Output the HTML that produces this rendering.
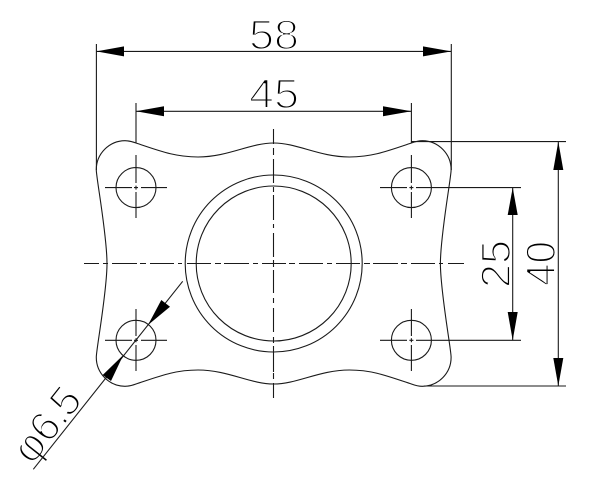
<!DOCTYPE html>
<html><head><meta charset="utf-8"><style>
html,body{margin:0;padding:0;background:#fff;width:602px;height:502px;overflow:hidden}
svg{display:block}
text{font-family:"Liberation Sans",sans-serif;font-size:42px;fill:#000;stroke:#fff;stroke-width:1.9px;paint-order:fill stroke}
.l{stroke:#1a1a1a;stroke-width:1.1;fill:none}
.a{fill:#000;stroke:none}
</style></head><body>
<svg width="602" height="502" viewBox="0 0 602 502" xmlns="http://www.w3.org/2000/svg">
<rect width="602" height="502" fill="#fff"/>
<text x="249" y="49" textLength="50" lengthAdjust="spacingAndGlyphs">58</text>
<text x="249" y="108" textLength="50" lengthAdjust="spacingAndGlyphs">45</text>
<text transform="translate(510 288) rotate(-90)" textLength="48" lengthAdjust="spacingAndGlyphs">25</text>
<text transform="translate(555 286) rotate(-90)" textLength="45" lengthAdjust="spacingAndGlyphs">40</text>
<text transform="translate(32 466) rotate(-51.5)" x="0 27 50 60" y="0">φ6.5</text>

<g class="l">
<path id="q" d="M273.7 143C250 143 228 157 198 157C175 157 160 151 136 143C132 141.5 128 140.7 125 140.7A29 29 0 0 0 96.3 170C96.3 178 107 235 107 263.5"/>
<use href="#q" transform="matrix(-1 0 0 1 547.4 0)"/>
<use href="#q" transform="matrix(1 0 0 -1 0 527)"/>
<use href="#q" transform="matrix(-1 0 0 -1 547.4 527)"/>
<circle cx="273.7" cy="263.5" r="88.5"/>
<circle cx="273.7" cy="263.5" r="77.5"/>
<circle cx="136" cy="187.6" r="20"/>
<circle cx="411.4" cy="187.6" r="20"/>
<circle cx="136" cy="340.3" r="20"/>
<circle cx="411.4" cy="340.3" r="20"/>

<!-- main centre lines -->
<path d="M84 263.5H99M103 263.5H108M112 263.5H137M140 263.5H146M150 263.5H174M178 263.5H182M187 263.5H211M215 263.5H221M224 263.5H249M253 263.5H258M262 263.5H286M289 263.5H295M299 263.5H323M327 263.5H332M336 263.5H360M364 263.5H370M373 263.5H398M401 263.5H407M411 263.5H435M439 263.5H443M448 263.5H464"/>
<path d="M273.5 129V144M273.5 148V155M273.5 159V183M273.5 187V192M273.5 195V220M273.5 224V228M273.5 233V257M273.5 260V267M273.5 270V293M273.5 298V303M273.5 308V332M273.5 337V343M273.5 346V372M273.5 373V379M273.5 383V398"/>

<!-- hole centre marks -->
<path d="M105 187.6H132M134 187.6H138M141 187.6H167M136 155V183M136 185.6V189.6M136 192V218"/>
<path d="M380 187.6H407M409.4 187.6H413.4M416 187.6H521M411.4 155V183M411.4 185.6V189.6M411.4 192V218"/>
<path d="M105 340.3H132M134 340.3H138M141 340.3H167M136 309V336M136 338.3V342.3M136 345V371"/>
<path d="M380 340.3H407M409.4 340.3H413.4M416 340.3H521M411.4 309V336M411.4 338.3V342.3M411.4 345V371"/>

<!-- dimensions -->
<path d="M96.4 44V170M451.3 44V170M96.4 51.4H451.3"/>
<path d="M136 103V143M411.4 103V143M136 111.3H411.4"/>
<path d="M411.4 141.6H566M424 386H566M558.3 141.6V386M512.7 187.6V340.3"/>
<path d="M33.3 469.3L182.7 281.3"/>
</g>
<g class="a">
<path d="M96.4 51.4L124 46.4V56.4Z"/>
<path d="M451.3 51.4L423 46.4V56.4Z"/>
<path d="M136 111.3L164 106.3V116.3Z"/>
<path d="M411.4 111.3L383 106.3V116.3Z"/>
<path d="M512.7 187.6L507.7 215H517.7Z"/>
<path d="M512.7 340.3L507.7 312H517.7Z"/>
<path d="M558.3 141.6L553.3 170H563.3Z"/>
<path d="M558.3 386L553.3 358H563.3Z"/>
<path d="M148 325L161.3 300L170 306.7Z"/>
<path d="M123.3 355L102.7 375L111 381Z"/>
</g>
</svg>
</body></html>
